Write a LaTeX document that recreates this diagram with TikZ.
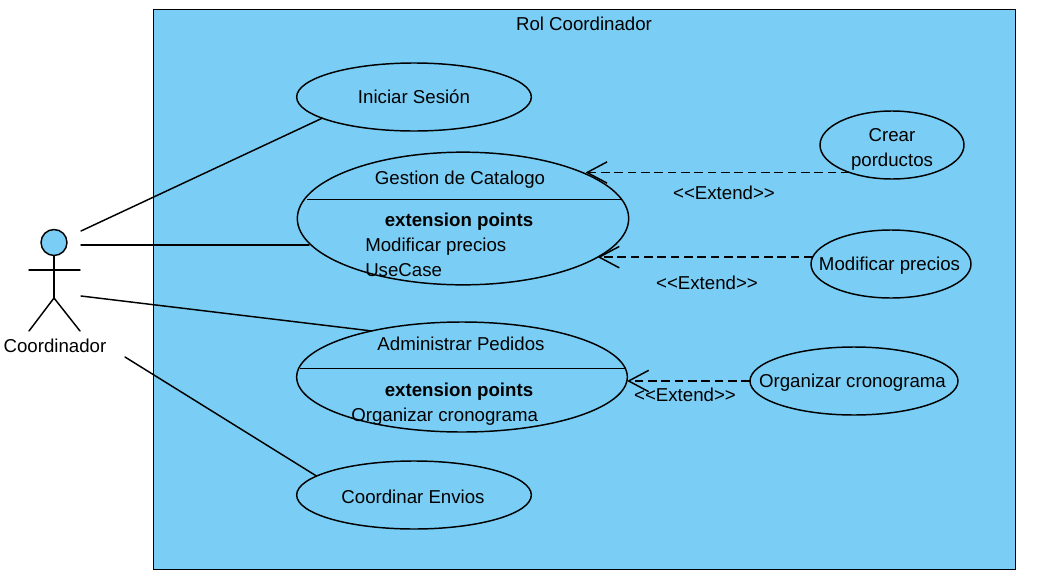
\documentclass[tikz,border=0pt]{standalone}
\usepackage{fontspec}
\setmainfont{Liberation Sans}
\usetikzlibrary{arrows.meta,shapes.geometric}
\definecolor{rolblue}{HTML}{7ACEF5}
\newcommand{\extendlabel}{<\kern0pt<Extend>\kern0pt>}
\tikzset{
  uml/.style={line width=1.1pt,line cap=round},
  usecase/.style={draw,uml,ellipse,fill=rolblue,inner sep=0pt,outer sep=0pt,align=center},
  caption/.style={inner sep=0pt,font=\fontsize{14pt}{18.75pt}\selectfont},
  leftcaption/.style={caption,anchor=west},
  extendline/.style={uml,dash pattern=on 6.5pt off 3.5pt,line cap=butt,
    arrows={-{Straight Barb[length=15pt,width=16pt,line width=1.1pt]}}}
}
\begin{document}
\begin{tikzpicture}[x=0.75pt,y=-0.75pt,every node/.append style={caption}]
  \useasboundingbox (0,0) rectangle (1058,586);
  \node[draw,uml,line cap=butt,fill=rolblue,minimum width=646.5pt,minimum height=420pt,anchor=north west,inner sep=0pt] (rol) at (153,9) {};
  \node (rolname) at (584,24) {Rol Coordinador};
  % actor
  \node[draw,uml,circle,fill=rolblue,minimum size=19.5pt,inner sep=0pt] (head) at (54,242.5) {};
  \coordinate (hip) at (54,298);
  \draw[uml] (head) -- (hip);
  \coordinate (armL) at (29,270);
  \coordinate (armR) at (80,270);
  \draw[uml] (armL) -- (armR);
  \foreach \x in {29,80}
    \draw[uml] (hip) -- (\x,331);
  \node (actor) at (55,346) {Coordinador};
  % use cases
  \node[usecase,minimum width=176pt,minimum height=51pt] (iniciar) at (414,97) {Iniciar Sesión};
  \node[usecase,minimum width=248.5pt,minimum height=99.5pt] (gestion) at (463,218.5) {};
  \node[usecase,minimum width=248pt,minimum height=82.5pt] (admin) at (462,377) {};
  \node[usecase,minimum width=176pt,minimum height=51pt] (envios) at (414,495) {};
  \node[usecase,minimum width=108pt,minimum height=51pt] (crear) at (892,145) {};
  \node[usecase,minimum width=120pt,minimum height=51pt] (modificar) at (891,264) {};
  \node[usecase,minimum width=156pt,minimum height=51pt] (organizar) at (854,381) {};
  \node (envtext) at (413,497) {Coordinar Envios};
  \node[align=center] (creartext) at (892,149) {Crear\\porductos};
  \node (modificartext) at (889.5,266) {Modificar precios};
  \node (organizartext) at (852.5,383) {Organizar cronograma};
  % compartments
  \draw[line width=0.8pt] (gestion.7.4) -- (gestion.7.4 -| gestion.172.6);
  \node (gestionname) at (460,179.5) {Gestion de Catalogo};
  \node (gestionext) at (459,222) {\textbf{extension points}};
  \node[leftcaption] (gestionp1) at (365,247) {Modificar precios};
  \node[leftcaption] (gestionp2) at (365,270) {UseCase};
  \draw[line width=0.8pt] (admin.3.2) -- (admin.3.2 -| admin.176.8);
  \node (adminname) at (461,344) {Administrar Pedidos};
  \node (adminext) at (459,392) {\textbf{extension points}};
  \node[leftcaption] (adminp1) at (351,417) {Organizar cronograma};
  % associations
  \coordinate (a1) at (81,231);
  \coordinate (a2) at (81,245);
  \coordinate (a3) at (81,296);
  \coordinate (a4) at (125,357);
  \draw[uml] (a1) -- (iniciar.193.6);
  \draw[uml] (a2) -- (a2 -| gestion.189.5);
  \draw[uml] (a3) -- (admin.153);
  \draw[uml] (a4) -- (envios.169);
  % extends
  \draw[extendline] (crear.213.5) -- (crear.213.5 -| gestion.20.4);
  \draw[extendline] (modificar.175.7) -- (modificar.175.7 -| gestion.-16);
  \draw[extendline] (organizar.180) -- (organizar.180 -| admin.-1.4);
  \node (ext1) at (724,193) {\extendlabel};
  \node (ext2) at (707,283) {\extendlabel};
  \node (ext3) at (685,395) {\extendlabel};
\end{tikzpicture}
\end{document}
